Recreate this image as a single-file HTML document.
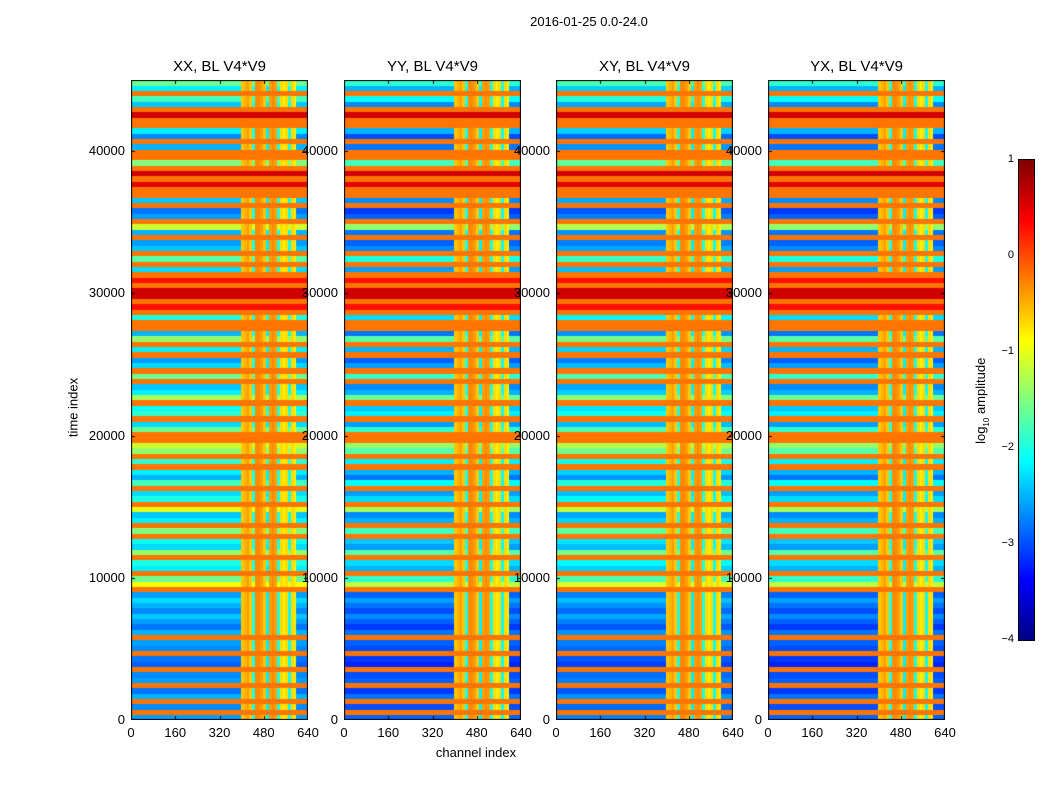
<!DOCTYPE html>
<html><head><meta charset="utf-8"><style>
body{margin:0;background:#fff;width:1050px;height:800px;position:relative;font-family:"Liberation Sans",sans-serif;overflow:hidden}
.t{position:absolute;color:#000;white-space:nowrap}
canvas{position:absolute}
</style></head><body>
<div class="t" style="left:489px;top:14px;width:200px;text-align:center;font-size:13px">2016-01-25 0.0-24.0</div>
<div class="t" style="left:42px;top:400px;font-size:13px;transform:rotate(-90deg);transform-origin:center;width:80px;text-align:center;margin-left:-9px">time index</div>
<div class="t" style="left:420px;top:745px;font-size:13px;width:112px;text-align:center">channel index</div>
<canvas id="cb" width="15" height="480" style="left:1019px;top:160px;border:1px solid #000;box-sizing:content-box;margin:-1px"></canvas>
<div class="t" style="left:922px;top:392px;width:120px;text-align:center;font-size:13px;transform:rotate(-90deg)">log<sub style="font-size:8px">10</sub> amplitude</div>
<div id="root"></div>
<script>
const panelTitles = ["XX, BL V4*V9","YY, BL V4*V9","XY, BL V4*V9","YX, BL V4*V9"];
const panelLeft = [131,344,556,768];
const panelOffset = [0,-0.3,-0.15,-0.3];
const xTicks = [0,160,320,480,640];
const yTicks = [0,10000,20000,30000,40000];
const cbTicks = [1,0,-1,-2,-3,-4];
const rowLevels = [
 -2.6,-0.2,-2.7,-0.2,-2.5,-2.8,-0.2,-2.6,-2.7,-0.2,-2.9,-2.8,-0.2,-2.7,-2.6,-0.2,-2.5,-2.8,-2.6,-2.4,-2.7,-2.5,-2.3,-2.6,
 -0.2,-0.9,-1.6,-0.2,-2.2,-2.0,-0.2,-1.4,-2.3,-2.1,-0.2,-1.5,-0.2,-2.2,-2.4,-1.0,-0.2,-2.0,-2.3,-0.2,-1.8,-2.5,-2.2,-0.2,-1.9,-0.2,-1.4,-1.1,-0.2,-0.2,-1.6,-2.3,-0.2,-1.9,-2.1,-0.2,-1.3,-2.2,-2.4,-0.2,
 -1.6,-0.2,-2.3,-2.6,-0.2,-2.2,-0.2,-1.4,-2.5,-0.2,-0.2,-2.0,-0.2,0.3,-0.2,0.6,0.6,-0.2,0.3,-0.2,-2.3,-0.2,-1.7,-0.2,-2.4,-2.6,-0.2,-2.5,-1.1,-0.2,-2.6,-2.8,-0.2,-2.4,-0.2,-0.2,0.5,-0.2,0.6,-0.2,-1.5,-0.2,-0.2,-2.5,-0.2,-2.7,-2.2,-0.2,-0.2,0.6,-0.2,-2.4,-1.8,-0.2,-2.2,-1.6];
// floor per 10-channel group (64 groups)
const colFloor = [-4,-4,-4,-4,-4,-4,-4,-4,-4,-4,-4,-4,-4,-4,-4,-4,-4,-4,-4,-4,
 -4,-4,-4,-4,-4,-4,-4,-4,-4,-4,-4,-4,-4,-4,-4,-4,-4,-4,-4,-4,
 -0.6,-0.5,-0.4,-0.6,-2.0,-0.3,-0.3,-0.4,-0.6,-2.2,-0.4,-0.3,-0.4,-2.0,-0.7,-0.8,-0.7,-2.1,-0.7,-0.8,
 -4,-4,-4,-4];
const X0=0,X1=640,Y0=0,Y1=45000,W=177,H=640,TOP=80;
function jet(v){let t=(v+4)/5;t=Math.max(0,Math.min(1,t));const c=x=>Math.round(255*Math.max(0,Math.min(1,1.5-Math.abs(4*t-x))));return `rgb(${c(3)},${c(2)},${c(1)})`;}
const sx=c=>c/(X1-X0)*W, sy=v=>H-(v-Y0)/(Y1-Y0)*H;
const root=document.getElementById('root');
function txt(name,s,css){const d=document.createElement('div');d.className='t';d.textContent=s;d.style.cssText=css;


root.appendChild(d);}
panelTitles.forEach((title,p)=>{
 const L=panelLeft[p];
 const cv=document.createElement('canvas');cv.width=W;cv.height=H;cv.style.left=L+'px';cv.style.top=TOP+'px';
 
 
 root.appendChild(cv);
 const g=cv.getContext('2d');
 const rh=(Y1-Y0)/rowLevels.length, cw=(X1-X0)/colFloor.length;
 rowLevels.forEach((lv,r)=>{colFloor.forEach((f,c)=>{
  let v=lv<-0.3?lv+panelOffset[p]:lv; v=Math.max(v,f);
  g.fillStyle=jet(v);
  const x0=sx(c*cw),x1=sx((c+1)*cw),y0=sy((r+1)*rh),y1=sy(r*rh);
  g.fillRect(Math.floor(x0),Math.floor(y0),Math.ceil(x1)-Math.floor(x0),Math.ceil(y1)-Math.floor(y0));
 });});
 g.strokeStyle='#000';g.lineWidth=1;g.strokeRect(0.5,0.5,W-1,H-1);
 xTicks.forEach(t=>{const x=Math.round(sx(t))+0.5;g.beginPath();g.moveTo(x,H);g.lineTo(x,H-4);g.moveTo(x,0);g.lineTo(x,4);g.stroke();
  txt('x-tick-label',String(t),`left:${L+sx(t)-20}px;top:${TOP+H+5}px;width:40px;text-align:center;font-size:13px`);});
 yTicks.forEach(t=>{const y=Math.round(sy(t))+0.5;g.beginPath();g.moveTo(0,y);g.lineTo(4,y);g.moveTo(W,y);g.lineTo(W-4,y);g.stroke();
  txt('y-tick-label',String(t),`left:${L-66}px;top:${TOP+sy(t)-8}px;width:60px;text-align:right;font-size:13px`);});
 txt('panel-title',title,`left:${L}px;top:${TOP-22}px;width:${W}px;text-align:center;font-size:15px`);
});
const cb=document.getElementById('cb').getContext('2d');
for(let i=0;i<480;i++){cb.fillStyle=jet(1-5*i/480);cb.fillRect(0,i,15,1);}
cbTicks.forEach(t=>{const y=160+(1-t)/5*480;
 txt('colorbar-tick-label',t<0?'\u2212'+(-t):String(t),`left:1000px;top:${y-7}px;width:14px;text-align:right;font-size:11px`);});
</script>
</body></html>
